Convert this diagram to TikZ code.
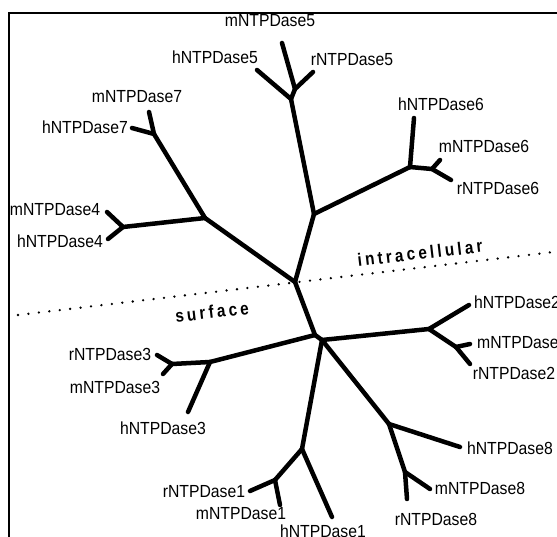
\documentclass[tikz,border=0pt]{standalone}
\usepackage{fontspec}
\usepackage{tikz}
\usetikzlibrary{positioning}
\newfontfamily\genefont[FakeStretch=0.9]{Liberation Sans}
\newfontfamily\sidefont[FakeStretch=0.85,LetterSpace=18]{Liberation Sans}

\begin{document}
\begin{tikzpicture}[
  x=1pt,y=-1pt,
  branch/.style={line width=4.5pt,line cap=round,line join=round},
  frame/.style={line width=2.2pt},
  fence/.style={line width=2.6pt,line cap=round,dash pattern=on 0pt off 10.5pt},
  gene/.style={inner sep=0pt,font=\genefont\fontsize{17.5}{20}\selectfont},
  side/.style={inner sep=0pt,rotate=6.7,font=\sidefont\bfseries\fontsize{18}{20}\selectfont}
]
\useasboundingbox (0,0) rectangle (557,537);
\clip (0,0) rectangle (557,537);
\draw[frame] (9,640) -- (9,13) -- (640,13);

% inner nodes of the tree
\coordinate (A) at (295,282);
\coordinate (U) at (314,214);
\coordinate (n5) at (291,99);
\coordinate (n5b) at (295,89);
\coordinate (n6) at (410,167);
\coordinate (n6b) at (432,169);
\coordinate (L) at (205,218);
\coordinate (n7) at (154,134);
\coordinate (n4) at (123,227);
\coordinate (D1) at (315,335);
\coordinate (D2) at (322,340);
\coordinate (n3) at (210,362);
\coordinate (n3b) at (172,364);
\coordinate (n2) at (429,329);
\coordinate (n2b) at (456,347);
\coordinate (n8) at (389,424);
\coordinate (n8b) at (405,472);
\coordinate (n1) at (302,449);
\coordinate (n1b) at (275,480);

% leaves
\coordinate (h5) at (257,70);
\coordinate (m5) at (282,43);
\coordinate (r5) at (313,72);
\coordinate (h6) at (414,118);
\coordinate (m6) at (440,160);
\coordinate (r6) at (451,180);
\coordinate (m7) at (149,112);
\coordinate (h7) at (132,128);
\coordinate (m4) at (107,212);
\coordinate (h4) at (108,239);
\coordinate (r3) at (157,355);
\coordinate (m3) at (163,374);
\coordinate (h3) at (188,412);
\coordinate (h2) at (469,305);
\coordinate (m2) at (470,344);
\coordinate (r2) at (470,364);
\coordinate (h8) at (460,447);
\coordinate (m8) at (430,489);
\coordinate (r8) at (407,499);
\coordinate (r1) at (250,491);
\coordinate (m1) at (280,505);
\coordinate (h1) at (332,517);

\foreach \a/\b in {A/U,U/n5,n5/h5,n5/n5b,n5b/m5,n5b/r5,U/n6,n6/h6,n6/n6b,n6b/m6,n6b/r6,
  A/L,L/n7,n7/m7,n7/h7,L/n4,n4/m4,n4/h4,A/D1,D1/D2,D1/n3,n3/h3,n3/n3b,n3b/r3,n3b/m3,
  D2/n2,n2/h2,n2/n2b,n2b/m2,n2b/r2,D2/n8,n8/h8,n8/n8b,n8b/m8,n8b/r8,D2/n1,n1/h1,n1/n1b,n1b/r1,n1b/m1}
  \draw[branch] (\a) -- (\b);

% membrane
\coordinate (fl) at (18,315);
\coordinate (fr) at (562,251);
\draw[fence] (fl) -- (fr);
\node[side] (intra) at (420,253) {intracellular};
\node[side] (surf) at (212,312) {surface};

% labels
\node[gene] (th5) at (215,57) {hNTPDase5};
\node[gene] (tm5) at (270,21) {mNTPDase5};
\node[gene] (tr5) at (352,60) {rNTPDase5};
\node[gene] (th6) at (441,104) {hNTPDase6};
\node[gene] (tm6) at (484,146) {mNTPDase6};
\node[gene] (tr6) at (498,188) {rNTPDase6};
\node[gene] (tm7) at (137,97) {mNTPDase7};
\node[gene] (th7) at (85,127) {hNTPDase7};
\node[gene] (tm4) at (55,210) {mNTPDase4};
\node[gene] (th4) at (60,241) {hNTPDase4};
\node[gene] (tr3) at (110,354) {rNTPDase3};
\node[gene] (tm3) at (115,387) {mNTPDase3};
\node[gene] (th3) at (163,428) {hNTPDase3};
\node[gene,anchor=west] (th2) at (474,302) {hNTPDase2};
\node[gene,anchor=west] (tm2) at (477,342) {mNTPDase2};
\node[gene] (tr2) at (514,373) {rNTPDase2};
\node[gene] (th8) at (510,448) {hNTPDase8};
\node[gene] (tm8) at (480,488) {mNTPDase8};
\node[gene] (tr8) at (436,519) {rNTPDase8};
\node[gene] (tr1) at (204,492) {rNTPDase1};
\node[gene] (tm1) at (241,514) {mNTPDase1};
\node[gene] (th1) at (323,531) {hNTPDase1};
\end{tikzpicture}
\end{document}
